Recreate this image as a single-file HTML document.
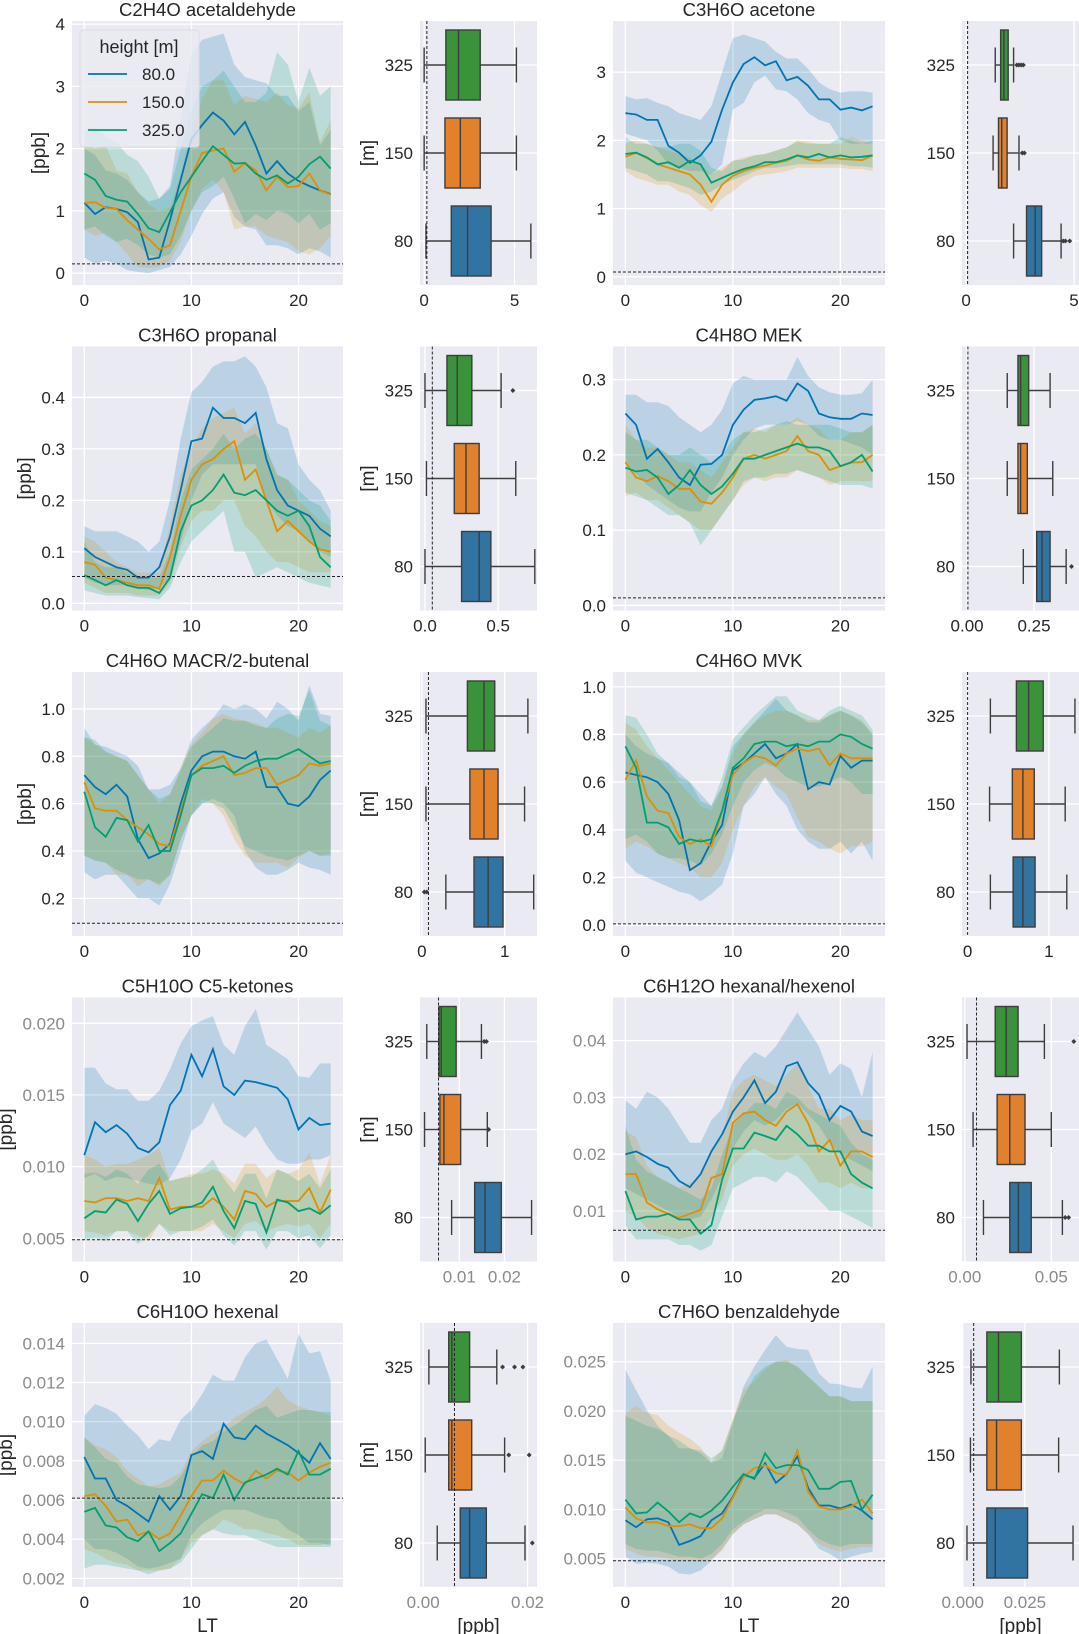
<!DOCTYPE html>
<html><head><meta charset="utf-8"><title>Diurnal VOC profiles</title>
<style>
html,body{margin:0;padding:0;background:#fff;}
svg{display:block;font-family:"Liberation Sans",Arial,sans-serif;}
</style></head>
<body>
<svg id="fig" width="1079" height="1634" viewBox="0 0 1079 1634" xmlns="http://www.w3.org/2000/svg"></svg>
<script>
// ---------- shared categories ----------
const hours = [0,1,2,3,4,5,6,7,8,9,10,11,12,13,14,15,16,17,18,19,20,21,22,23];
const heights = ['80.0','150.0','325.0'];
const boxCats = ['80','150','325'];

// ---------- P1 acetaldehyde ----------
const acet_m80 = [1.13,0.95,1.06,1.03,0.98,0.82,0.22,0.25,0.85,1.5,2.15,2.38,2.58,2.45,2.23,2.43,2.05,1.6,1.8,1.6,1.48,1.4,1.33,1.27];
const acet_lo80 = [0.25,0.15,0.2,0.15,0.05,0.02,0.0,0.05,0.1,0.3,0.6,0.95,1.2,1.3,0.9,0.75,0.7,0.45,0.45,0.4,0.3,0.4,0.35,0.25];
const acet_hi80 = [2.0,1.9,1.65,1.6,1.5,1.3,1.15,1.2,1.4,2.5,3.5,3.75,3.8,3.85,3.35,3.15,3.1,3.05,2.85,2.85,2.6,2.75,2.05,2.3];
const acet_m150 = [1.13,1.14,1.05,1.03,0.85,0.7,0.55,0.38,0.45,1.0,1.55,1.93,1.97,2.0,1.63,1.77,1.65,1.33,1.55,1.38,1.4,1.6,1.33,1.26];
const acet_lo150 = [0.7,0.6,0.65,0.5,0.3,0.1,0.08,0.1,0.2,0.5,1.0,1.35,1.5,1.3,0.7,0.75,0.75,0.6,0.55,0.5,0.35,0.3,0.4,0.6];
const acet_hi150 = [2.05,2.0,2.05,1.65,1.6,1.3,1.1,1.0,1.05,1.6,2.3,2.8,3.1,3.1,2.7,2.85,2.8,2.75,2.9,2.7,2.65,2.9,2.1,2.45];
const acet_m325 = [1.6,1.5,1.24,1.18,1.15,0.95,0.72,0.66,0.98,1.3,1.55,1.8,2.04,1.9,1.76,1.77,1.6,1.5,1.57,1.44,1.55,1.75,1.87,1.68];
const acet_lo325 = [0.7,0.75,0.6,0.5,0.55,0.45,0.3,0.25,0.3,0.6,1.0,1.3,1.4,1.55,1.2,0.8,0.95,0.85,1.0,0.95,0.8,0.95,0.7,0.8];
const acet_hi325 = [2.3,2.35,2.2,2.1,1.9,1.8,1.55,1.2,1.35,2.0,2.6,3.0,3.1,3.25,3.0,2.75,2.75,2.9,3.55,3.35,2.75,3.3,2.85,3.0];
const acet_yticks = [0,1,2,3,4];
const acet_ylabels = ['0','1','2','3','4'];

// ---------- P2 acetone ----------
const acetone_m80 = [2.4,2.38,2.3,2.3,1.92,1.82,1.67,1.78,1.98,2.45,2.85,3.12,3.22,3.1,3.16,2.88,2.93,2.8,2.6,2.6,2.45,2.48,2.44,2.5];
const acetone_lo80 = [2.1,2.05,2.0,1.85,1.65,1.6,1.55,1.55,1.5,1.65,2.45,2.55,2.85,2.95,2.75,2.72,2.6,2.4,2.3,2.25,2.0,1.95,1.95,1.95];
const acetone_hi80 = [2.65,2.6,2.62,2.55,2.5,2.4,2.35,2.3,2.5,3.0,3.5,3.55,3.5,3.45,3.3,3.2,3.2,3.05,2.85,2.75,2.7,2.72,2.72,2.7];
const acetone_m150 = [1.76,1.82,1.74,1.65,1.6,1.55,1.5,1.35,1.1,1.35,1.48,1.55,1.6,1.63,1.67,1.7,1.78,1.72,1.7,1.75,1.73,1.72,1.71,1.78];
const acetone_lo150 = [1.55,1.45,1.4,1.35,1.35,1.25,1.2,1.05,0.95,1.15,1.25,1.38,1.48,1.5,1.52,1.55,1.6,1.6,1.6,1.6,1.6,1.58,1.58,1.55];
const acetone_hi150 = [1.95,2.0,1.95,1.9,1.85,1.8,1.75,1.65,1.5,1.6,1.7,1.75,1.78,1.8,1.85,1.9,2.0,1.98,1.95,1.95,1.95,2.05,2.0,1.95];
const acetone_m325 = [1.8,1.82,1.75,1.65,1.68,1.6,1.7,1.65,1.38,1.45,1.52,1.58,1.62,1.68,1.68,1.72,1.78,1.75,1.8,1.75,1.78,1.75,1.76,1.78];
const acetone_lo325 = [1.6,1.55,1.5,1.4,1.4,1.35,1.3,1.2,1.25,1.35,1.42,1.48,1.55,1.6,1.6,1.62,1.65,1.65,1.65,1.65,1.65,1.62,1.62,1.6];
const acetone_hi325 = [2.05,1.95,1.95,1.9,1.9,1.95,1.95,1.85,1.6,1.55,1.7,1.72,1.78,1.8,1.85,1.9,1.98,1.95,1.95,1.95,2.05,2.0,1.95,2.0];
const acetone_yticks = [0,1,2,3];
const acetone_ylabels = ['0','1','2','3'];

// ---------- P3 propanal ----------
const prop_m80 = [0.107,0.09,0.08,0.07,0.065,0.05,0.05,0.07,0.13,0.22,0.315,0.32,0.38,0.36,0.36,0.35,0.37,0.28,0.22,0.19,0.18,0.17,0.145,0.13];
const prop_lo80 = [0.05,0.04,0.035,0.035,0.035,0.03,0.025,0.03,0.05,0.12,0.2,0.25,0.27,0.27,0.27,0.27,0.27,0.2,0.17,0.15,0.14,0.12,0.1,0.09];
const prop_hi80 = [0.15,0.14,0.14,0.14,0.13,0.12,0.1,0.12,0.2,0.32,0.41,0.43,0.46,0.47,0.47,0.48,0.46,0.42,0.35,0.34,0.27,0.24,0.22,0.18];
const prop_m150 = [0.08,0.075,0.05,0.045,0.04,0.035,0.035,0.028,0.09,0.17,0.24,0.27,0.28,0.3,0.315,0.24,0.26,0.2,0.14,0.16,0.14,0.12,0.105,0.1];
const prop_lo150 = [0.04,0.03,0.02,0.02,0.02,0.015,0.015,0.015,0.04,0.11,0.16,0.18,0.18,0.2,0.2,0.15,0.13,0.1,0.08,0.08,0.07,0.06,0.06,0.06];
const prop_hi150 = [0.13,0.12,0.1,0.08,0.07,0.06,0.06,0.06,0.15,0.25,0.3,0.34,0.36,0.37,0.38,0.33,0.35,0.3,0.25,0.24,0.2,0.18,0.16,0.15];
const prop_m325 = [0.055,0.045,0.035,0.045,0.035,0.03,0.03,0.02,0.05,0.14,0.19,0.2,0.22,0.25,0.215,0.21,0.22,0.2,0.18,0.17,0.18,0.15,0.09,0.07];
const prop_lo325 = [0.025,0.02,0.015,0.015,0.015,0.012,0.01,0.008,0.03,0.08,0.12,0.14,0.16,0.18,0.1,0.1,0.05,0.06,0.07,0.06,0.05,0.04,0.035,0.03];
const prop_hi325 = [0.12,0.08,0.07,0.07,0.06,0.05,0.05,0.05,0.1,0.2,0.26,0.28,0.3,0.33,0.3,0.32,0.33,0.3,0.25,0.24,0.22,0.2,0.19,0.16];
const prop_yticks = [0,0.1,0.2,0.3,0.4];
const prop_ylabels = ['0.0','0.1','0.2','0.3','0.4'];

// ---------- P4 MEK ----------
const mek_m80 = [0.255,0.24,0.195,0.208,0.19,0.17,0.16,0.187,0.188,0.2,0.24,0.26,0.273,0.275,0.278,0.272,0.295,0.285,0.255,0.25,0.248,0.248,0.255,0.253];
const mek_lo80 = [0.19,0.175,0.16,0.15,0.14,0.13,0.125,0.125,0.15,0.17,0.2,0.22,0.235,0.24,0.24,0.24,0.245,0.24,0.225,0.22,0.22,0.215,0.21,0.2];
const mek_hi80 = [0.28,0.28,0.27,0.27,0.265,0.25,0.24,0.23,0.24,0.26,0.295,0.305,0.3,0.3,0.3,0.3,0.33,0.305,0.29,0.283,0.28,0.28,0.282,0.3];
const mek_m150 = [0.19,0.17,0.165,0.172,0.165,0.155,0.155,0.138,0.135,0.15,0.17,0.195,0.2,0.195,0.2,0.205,0.225,0.205,0.2,0.18,0.185,0.19,0.19,0.2];
const mek_lo150 = [0.145,0.15,0.14,0.14,0.13,0.12,0.11,0.1,0.1,0.12,0.14,0.16,0.17,0.165,0.17,0.17,0.18,0.175,0.17,0.16,0.165,0.165,0.165,0.165];
const mek_hi150 = [0.24,0.22,0.21,0.21,0.2,0.19,0.19,0.18,0.17,0.19,0.21,0.23,0.235,0.23,0.24,0.24,0.25,0.24,0.235,0.22,0.22,0.23,0.23,0.24];
const mek_m325 = [0.183,0.178,0.18,0.17,0.148,0.16,0.18,0.16,0.148,0.158,0.175,0.195,0.195,0.2,0.205,0.21,0.215,0.21,0.21,0.205,0.185,0.19,0.2,0.178];
const mek_lo325 = [0.15,0.145,0.14,0.13,0.12,0.12,0.11,0.08,0.1,0.12,0.14,0.165,0.17,0.17,0.175,0.175,0.18,0.175,0.17,0.165,0.16,0.16,0.16,0.155];
const mek_hi325 = [0.23,0.22,0.22,0.21,0.2,0.2,0.21,0.2,0.19,0.2,0.22,0.23,0.23,0.235,0.24,0.245,0.24,0.24,0.24,0.24,0.235,0.23,0.23,0.24];
const mek_yticks = [0,0.1,0.2,0.3];
const mek_ylabels = ['0.0','0.1','0.2','0.3'];

// ---------- P5 MACR/2-butenal ----------
const macr_m80 = [0.72,0.67,0.64,0.68,0.63,0.45,0.37,0.39,0.43,0.6,0.74,0.8,0.82,0.82,0.8,0.79,0.82,0.67,0.67,0.6,0.59,0.63,0.7,0.74];
const macr_lo80 = [0.31,0.28,0.3,0.3,0.25,0.2,0.2,0.17,0.26,0.4,0.55,0.6,0.62,0.6,0.55,0.4,0.33,0.3,0.3,0.32,0.35,0.33,0.32,0.3];
const macr_hi80 = [0.92,0.85,0.84,0.82,0.8,0.76,0.66,0.66,0.68,0.75,0.87,0.92,0.96,1.02,1.0,1.02,1.0,0.96,1.03,1.0,0.95,1.1,0.98,0.97];
const macr_m150 = [0.69,0.58,0.57,0.57,0.53,0.5,0.47,0.43,0.42,0.57,0.72,0.76,0.78,0.8,0.72,0.73,0.75,0.75,0.68,0.7,0.72,0.77,0.76,0.77];
const macr_lo150 = [0.38,0.36,0.35,0.3,0.3,0.25,0.28,0.25,0.3,0.45,0.55,0.62,0.6,0.55,0.45,0.38,0.35,0.35,0.35,0.33,0.37,0.4,0.38,0.39];
const macr_hi150 = [0.88,0.85,0.82,0.8,0.78,0.72,0.66,0.6,0.64,0.75,0.85,0.9,0.96,0.98,0.96,0.95,0.94,0.92,0.92,0.9,0.88,0.92,0.9,0.93];
const macr_m325 = [0.65,0.5,0.46,0.54,0.53,0.44,0.51,0.4,0.4,0.55,0.72,0.75,0.75,0.76,0.73,0.76,0.78,0.79,0.79,0.81,0.83,0.8,0.77,0.78];
const macr_lo325 = [0.38,0.36,0.35,0.32,0.3,0.28,0.28,0.26,0.3,0.45,0.55,0.6,0.6,0.58,0.5,0.42,0.4,0.38,0.37,0.36,0.38,0.4,0.38,0.38];
const macr_hi325 = [0.88,0.87,0.82,0.8,0.78,0.72,0.66,0.62,0.64,0.74,0.84,0.88,0.92,0.96,0.95,0.95,0.93,0.92,0.96,0.98,0.97,1.08,0.95,0.93];
const macr_yticks = [0.2,0.4,0.6,0.8,1.0];
const macr_ylabels = ['0.2','0.4','0.6','0.8','1.0'];

// ---------- P6 MVK ----------
const mvk_m80 = [0.64,0.63,0.62,0.6,0.55,0.44,0.23,0.26,0.35,0.42,0.65,0.68,0.72,0.76,0.7,0.72,0.76,0.57,0.6,0.59,0.71,0.66,0.69,0.69];
const mvk_lo80 = [0.27,0.22,0.2,0.18,0.16,0.14,0.13,0.1,0.13,0.17,0.3,0.5,0.55,0.62,0.55,0.5,0.4,0.35,0.32,0.32,0.35,0.3,0.35,0.27];
const mvk_hi80 = [0.8,0.75,0.72,0.7,0.68,0.64,0.6,0.55,0.5,0.58,0.75,0.8,0.85,0.9,0.95,0.9,0.88,0.85,0.85,0.88,0.9,0.88,0.85,0.8];
const mvk_m150 = [0.61,0.69,0.54,0.48,0.47,0.37,0.34,0.36,0.33,0.48,0.63,0.68,0.71,0.7,0.67,0.72,0.74,0.73,0.74,0.67,0.72,0.7,0.7,0.7];
const mvk_lo150 = [0.32,0.35,0.33,0.3,0.28,0.26,0.24,0.2,0.2,0.26,0.4,0.5,0.58,0.62,0.58,0.55,0.45,0.37,0.35,0.32,0.3,0.33,0.33,0.35];
const mvk_hi150 = [0.85,0.82,0.75,0.7,0.65,0.6,0.55,0.5,0.48,0.58,0.72,0.8,0.85,0.88,0.9,0.9,0.88,0.86,0.86,0.88,0.9,0.88,0.86,0.8];
const mvk_m325 = [0.75,0.66,0.43,0.43,0.41,0.34,0.36,0.35,0.36,0.48,0.66,0.7,0.76,0.77,0.77,0.75,0.76,0.75,0.77,0.77,0.8,0.79,0.76,0.74];
const mvk_lo325 = [0.36,0.38,0.35,0.3,0.28,0.28,0.27,0.25,0.3,0.38,0.5,0.6,0.65,0.68,0.66,0.62,0.6,0.58,0.58,0.6,0.62,0.6,0.55,0.55];
const mvk_hi325 = [0.88,0.87,0.8,0.72,0.68,0.62,0.6,0.52,0.5,0.62,0.78,0.83,0.88,0.92,0.96,0.96,0.9,0.88,0.86,0.9,0.92,0.9,0.88,0.82];
const mvk_yticks = [0,0.2,0.4,0.6,0.8,1.0];
const mvk_ylabels = ['0.0','0.2','0.4','0.6','0.8','1.0'];

// ---------- P7 C5-ketones ----------
const c5_m80 = [0.0108,0.0131,0.0124,0.0129,0.0123,0.0113,0.011,0.0117,0.0143,0.0153,0.0178,0.0163,0.0182,0.0156,0.015,0.016,0.0159,0.0157,0.0155,0.0147,0.0126,0.0134,0.0129,0.013];
const c5_lo80 = [0.0092,0.0095,0.009,0.0093,0.0092,0.009,0.0088,0.0087,0.0092,0.0105,0.0125,0.013,0.0145,0.013,0.0125,0.012,0.0128,0.0115,0.0105,0.0102,0.0102,0.0105,0.0105,0.0108];
const c5_hi80 = [0.0169,0.0169,0.0158,0.0154,0.0154,0.0146,0.0146,0.0153,0.0168,0.0186,0.0198,0.0202,0.0205,0.0185,0.0178,0.0198,0.021,0.0185,0.018,0.0175,0.0163,0.0162,0.0172,0.0172];
const c5_m150 = [0.0076,0.0075,0.0078,0.0078,0.0076,0.0078,0.0076,0.0092,0.007,0.0072,0.0072,0.0072,0.0078,0.0072,0.0063,0.0083,0.0081,0.0072,0.0076,0.0076,0.0076,0.0085,0.0068,0.0084];
const c5_lo150 = [0.0055,0.0054,0.0052,0.0055,0.0055,0.0052,0.0048,0.006,0.0055,0.0055,0.0055,0.0055,0.006,0.0055,0.005,0.006,0.0062,0.0055,0.0058,0.006,0.0058,0.006,0.005,0.006];
const c5_hi150 = [0.0108,0.0105,0.01,0.0102,0.0102,0.0105,0.0108,0.0113,0.009,0.0092,0.0095,0.0095,0.0098,0.0095,0.0088,0.0102,0.0102,0.0092,0.0098,0.0095,0.0098,0.011,0.0088,0.0108];
const c5_m325 = [0.0064,0.0069,0.0068,0.0077,0.0074,0.0062,0.0074,0.0083,0.0067,0.0071,0.0072,0.0075,0.0086,0.0069,0.0057,0.0076,0.0074,0.0054,0.0077,0.0075,0.0069,0.0071,0.0067,0.0073];
const c5_lo325 = [0.0049,0.005,0.0048,0.0055,0.0055,0.0046,0.0052,0.006,0.0052,0.0055,0.0055,0.0058,0.0063,0.0052,0.0045,0.0055,0.0055,0.0042,0.0055,0.0055,0.005,0.0052,0.0043,0.0052];
const c5_hi325 = [0.0095,0.0096,0.0093,0.0098,0.0095,0.0088,0.0098,0.0102,0.009,0.0092,0.0093,0.0098,0.0105,0.0092,0.0082,0.0095,0.0095,0.0078,0.0098,0.0095,0.009,0.0095,0.0085,0.0098];
const c5_yticks = [0.005,0.010,0.015,0.020];
const c5_ylabels = ['0.005','0.010','0.015','0.020'];

// ---------- P8 hexanal/hexenol ----------
const hexa_m80 = [0.02,0.0205,0.0195,0.0183,0.0176,0.0153,0.0142,0.0165,0.0205,0.0235,0.0275,0.03,0.033,0.029,0.031,0.0355,0.0362,0.0325,0.0305,0.026,0.0285,0.0275,0.024,0.0232];
const hexa_lo80 = [0.014,0.013,0.012,0.011,0.01,0.009,0.0085,0.009,0.012,0.016,0.021,0.024,0.026,0.025,0.026,0.028,0.029,0.027,0.025,0.022,0.02,0.019,0.018,0.017];
const hexa_hi80 = [0.0295,0.028,0.031,0.03,0.028,0.025,0.022,0.022,0.026,0.028,0.033,0.036,0.038,0.037,0.039,0.042,0.045,0.042,0.039,0.034,0.036,0.035,0.03,0.038];
const hexa_m150 = [0.0165,0.0165,0.0115,0.0103,0.0095,0.0088,0.0095,0.0102,0.0158,0.0165,0.0255,0.0272,0.0275,0.026,0.025,0.0275,0.0288,0.0255,0.0205,0.0225,0.018,0.0205,0.0205,0.0195];
const hexa_lo150 = [0.01,0.009,0.007,0.006,0.0055,0.005,0.0055,0.006,0.009,0.012,0.018,0.02,0.021,0.02,0.019,0.019,0.02,0.018,0.015,0.015,0.014,0.015,0.014,0.014];
const hexa_hi150 = [0.024,0.023,0.018,0.016,0.015,0.014,0.015,0.016,0.021,0.023,0.031,0.033,0.034,0.033,0.032,0.034,0.036,0.032,0.028,0.028,0.026,0.027,0.026,0.026];
const hexa_m325 = [0.0135,0.0085,0.009,0.009,0.0095,0.0085,0.0085,0.006,0.0075,0.0155,0.021,0.021,0.0238,0.0232,0.0225,0.025,0.0235,0.0215,0.0215,0.0205,0.0205,0.0165,0.015,0.014];
const hexa_lo325 = [0.0075,0.005,0.005,0.005,0.005,0.004,0.004,0.003,0.004,0.009,0.014,0.015,0.016,0.016,0.015,0.017,0.016,0.014,0.012,0.01,0.01,0.009,0.008,0.007];
const hexa_hi325 = [0.025,0.019,0.017,0.016,0.015,0.014,0.013,0.012,0.014,0.02,0.025,0.027,0.029,0.029,0.028,0.031,0.03,0.028,0.027,0.026,0.025,0.022,0.02,0.019];
const hexa_yticks = [0.01,0.02,0.03,0.04];
const hexa_ylabels = ['0.01','0.02','0.03','0.04'];

// ---------- P9 hexenal ----------
const hexe_m80 = [0.0082,0.0071,0.0071,0.006,0.0057,0.0053,0.0049,0.0062,0.0055,0.0062,0.0083,0.0085,0.0081,0.0099,0.0092,0.0091,0.0098,0.0094,0.0091,0.0088,0.0084,0.0079,0.0089,0.0081];
const hexe_lo80 = [0.004,0.0035,0.0035,0.0033,0.003,0.0026,0.0025,0.0026,0.0028,0.003,0.0042,0.0048,0.0052,0.0055,0.0055,0.0055,0.0053,0.0051,0.005,0.0045,0.0042,0.0038,0.0038,0.0037];
const hexe_hi80 = [0.0103,0.0109,0.0107,0.0104,0.0098,0.0093,0.0086,0.0091,0.009,0.0101,0.0106,0.0114,0.0124,0.0121,0.0121,0.0133,0.014,0.0142,0.0132,0.0122,0.0145,0.0135,0.0136,0.0121];
const hexe_m150 = [0.0062,0.0063,0.0057,0.0049,0.005,0.0042,0.0044,0.004,0.0043,0.0052,0.0062,0.007,0.007,0.0075,0.0071,0.0068,0.0075,0.0071,0.0075,0.0074,0.007,0.0074,0.0077,0.0079];
const hexe_lo150 = [0.0035,0.0033,0.003,0.0028,0.0027,0.0024,0.0024,0.0024,0.0025,0.003,0.0038,0.0042,0.0045,0.005,0.0048,0.0045,0.0045,0.0043,0.0042,0.004,0.0037,0.0037,0.0037,0.0038];
const hexe_hi150 = [0.0092,0.0088,0.0086,0.0082,0.0075,0.0071,0.0067,0.0068,0.0071,0.0074,0.0085,0.009,0.0094,0.0097,0.0102,0.0105,0.0108,0.0112,0.0118,0.0111,0.0108,0.0106,0.0105,0.0103];
const hexe_m325 = [0.0054,0.0056,0.0047,0.0046,0.0041,0.0039,0.0044,0.0034,0.0038,0.0043,0.0053,0.0063,0.0061,0.0073,0.006,0.0069,0.0071,0.0073,0.0076,0.0073,0.0085,0.0073,0.0073,0.0076];
const hexe_lo325 = [0.0025,0.0027,0.0027,0.0026,0.0025,0.0024,0.0022,0.0024,0.0025,0.0028,0.0035,0.0042,0.0045,0.0043,0.0042,0.0042,0.004,0.0038,0.0036,0.0036,0.0036,0.0036,0.0036,0.0036];
const hexe_hi325 = [0.0092,0.0087,0.0081,0.0079,0.0072,0.0068,0.0067,0.0066,0.0067,0.0072,0.0082,0.0088,0.009,0.0095,0.0098,0.0102,0.0106,0.0108,0.0102,0.0104,0.0106,0.0106,0.0105,0.0105];
const hexe_yticks = [0.002,0.004,0.006,0.008,0.010,0.012,0.014];
const hexe_ylabels = ['0.002','0.004','0.006','0.008','0.010','0.012','0.014'];

// ---------- P10 benzaldehyde ----------
const benz_m80 = [0.0089,0.0082,0.009,0.0091,0.0087,0.0064,0.0068,0.0073,0.0089,0.0096,0.0113,0.0135,0.0132,0.0147,0.0127,0.0136,0.0154,0.0122,0.0104,0.0104,0.0101,0.0105,0.0099,0.009];
const benz_lo80 = [0.0052,0.0045,0.0046,0.0045,0.0042,0.0035,0.0034,0.0038,0.0048,0.006,0.0075,0.0085,0.009,0.0095,0.0095,0.009,0.0085,0.0075,0.006,0.0055,0.0048,0.0052,0.0055,0.0057];
const benz_hi80 = [0.0242,0.0221,0.0201,0.0185,0.0175,0.0162,0.0162,0.0157,0.0147,0.0152,0.0188,0.0225,0.0245,0.0262,0.0277,0.0265,0.0263,0.0262,0.0238,0.0228,0.0227,0.0224,0.0223,0.0245];
const benz_m150 = [0.0102,0.0091,0.0087,0.0087,0.0083,0.0083,0.0085,0.0081,0.0081,0.0091,0.0112,0.0133,0.0142,0.0145,0.0137,0.0135,0.016,0.0118,0.0103,0.01,0.01,0.0103,0.011,0.0096];
const benz_lo150 = [0.006,0.0055,0.0052,0.0052,0.005,0.0048,0.0048,0.0047,0.005,0.0058,0.0075,0.0085,0.009,0.0095,0.0095,0.009,0.0085,0.0075,0.0065,0.006,0.0057,0.006,0.0062,0.0062];
const benz_hi150 = [0.0198,0.0205,0.0198,0.0196,0.0185,0.0178,0.0172,0.0163,0.0148,0.016,0.0193,0.0222,0.023,0.0242,0.025,0.0252,0.0245,0.0235,0.0224,0.0215,0.0215,0.021,0.021,0.021];
const benz_m325 = [0.011,0.0096,0.0097,0.0107,0.0098,0.0087,0.0096,0.0092,0.0099,0.0109,0.0123,0.0136,0.0131,0.0157,0.0142,0.0145,0.0145,0.014,0.0121,0.0121,0.0128,0.0129,0.01,0.0115];
const benz_lo325 = [0.0065,0.006,0.0058,0.0058,0.0055,0.0052,0.0052,0.005,0.0055,0.0065,0.008,0.0088,0.0095,0.01,0.01,0.0097,0.0092,0.008,0.007,0.0065,0.0062,0.0065,0.0065,0.0065];
const benz_hi325 = [0.0195,0.019,0.0185,0.0182,0.0175,0.017,0.0162,0.016,0.0152,0.016,0.019,0.0215,0.0235,0.0245,0.025,0.025,0.0245,0.0235,0.0225,0.0215,0.0215,0.021,0.021,0.021];
const benz_yticks = [0.005,0.010,0.015,0.020,0.025];
const benz_ylabels = ['0.005','0.010','0.015','0.020','0.025'];

// ---------- box-plot statistics (order: 80, 150, 325) ----------
const b1_q1=[1.5,1.15,1.2], b1_med=[2.4,2.0,1.9], b1_q3=[3.7,3.1,3.1], b1_wlo=[0.1,0,0], b1_whi=[5.9,5.1,5.1];
const b1_out=[[],[],[]]; const b1_ticks=[0,5]; const b1_labels=['0','5'];
const b2_q1=[2.8,1.5,1.6], b2_med=[3.2,1.65,1.75], b2_q3=[3.5,1.9,1.95], b2_wlo=[2.2,1.25,1.35], b2_whi=[4.4,2.45,2.2];
const b2_out=[[4.5,4.6,4.8],[2.6,2.7],[2.35,2.45,2.55,2.65]]; const b2_ticks=[0,5]; const b2_labels=['0','5'];
const b3_q1=[0.25,0.2,0.15], b3_med=[0.37,0.28,0.22], b3_q3=[0.45,0.37,0.32], b3_wlo=[0,0.01,0], b3_whi=[0.75,0.62,0.52];
const b3_out=[[],[],[0.6]]; const b3_ticks=[0,0.5]; const b3_labels=['0.0','0.5'];
const b4_q1=[0.26,0.19,0.19], b4_med=[0.28,0.2,0.2], b4_q3=[0.31,0.225,0.23], b4_wlo=[0.21,0.15,0.15], b4_whi=[0.37,0.32,0.31];
const b4_out=[[0.39],[],[]]; const b4_ticks=[0,0.25]; const b4_labels=['0.00','0.25'];
const b5_q1=[0.63,0.58,0.55], b5_med=[0.8,0.75,0.75], b5_q3=[0.98,0.92,0.88], b5_wlo=[0.29,0.05,0.05], b5_whi=[1.35,1.24,1.28];
const b5_out=[[0.03,0.06],[],[]]; const b5_ticks=[0,1]; const b5_labels=['0','1'];
const b6_q1=[0.56,0.55,0.6], b6_med=[0.68,0.68,0.75], b6_q3=[0.83,0.82,0.93], b6_wlo=[0.28,0.27,0.28], b6_whi=[1.22,1.2,1.32];
const b6_out=[[],[],[]]; const b6_ticks=[0,1]; const b6_labels=['0','1'];
const b7_q1=[0.0134,0.0057,0.0055], b7_med=[0.0157,0.0066,0.006], b7_q3=[0.0193,0.0103,0.0093], b7_wlo=[0.0083,0.0023,0.0028], b7_whi=[0.026,0.0162,0.0149];
const b7_out=[[],[0.0165],[0.0155,0.016]]; const b7_ticks=[0.01,0.02]; const b7_labels=['0.01','0.02'];
const b8_q1=[0.026,0.0187,0.0176], b8_med=[0.031,0.026,0.0239], b8_q3=[0.0384,0.0348,0.0308], b8_wlo=[0.0108,0.0048,0.0013], b8_whi=[0.0564,0.05,0.046];
const b8_out=[[0.058,0.06],[],[0.063]]; const b8_ticks=[0,0.05]; const b8_labels=['0.00','0.05'];
const b9_q1=[0.0071,0.0049,0.0049], b9_med=[0.0089,0.0055,0.0055], b9_q3=[0.0121,0.0093,0.0089], b9_wlo=[0.0027,0.0004,0.0011], b9_whi=[0.0195,0.0156,0.0141];
const b9_out=[[0.0209],[0.0164,0.0203],[0.0152,0.0175,0.0191]]; const b9_ticks=[0,0.02]; const b9_labels=['0.00','0.02'];
const b10_q1=[0.0097,0.0097,0.0097], b10_med=[0.0131,0.0136,0.0144], b10_q3=[0.0261,0.0236,0.0236], b10_wlo=[0.0017,0.0031,0.0033], b10_whi=[0.0444,0.0386,0.0389];
const b10_out=[[],[],[]]; const b10_ticks=[0,0.025]; const b10_labels=['0.000','0.025'];

const xTicks = [0,10,20];
const xTickLabels = ['0','10','20'];

// ---------- rendering ----------
const NS = 'http://www.w3.org/2000/svg';
const svg = document.getElementById('fig');
const LINE_COLORS = ['#0173b2','#de8f05','#029e73'];
const BOX_COLORS = ['#3274a1','#e1812c','#3a923a'];
const COLS = [[72,343],[420,537],[613,885],[962,1079]];
const PH = 264;
function rowTop(r){ return 21 + r*325.5; }
function mk(tag, attrs, parent){
  const e = document.createElementNS(NS, tag);
  for (const k in attrs) e.setAttribute(k, attrs[k]);
  (parent||svg).appendChild(e);
  return e;
}
function txt(s, attrs, parent){ const e = mk('text', attrs, parent); e.textContent = s; return e; }

const linePanels = [
 {id:'acetaldehyde', title:'C2H4O acetaldehyde', col:0,row:0, ymin:-0.19,ymax:4.05, hline:0.15, yt:acet_yticks, yl:acet_ylabels, ylx:45, s:[[acet_m80,acet_lo80,acet_hi80],[acet_m150,acet_lo150,acet_hi150],[acet_m325,acet_lo325,acet_hi325]]},
 {id:'acetone', title:'C3H6O acetone', col:2,row:0, ymin:-0.12,ymax:3.75, hline:0.07, yt:acetone_yticks, yl:acetone_ylabels, s:[[acetone_m80,acetone_lo80,acetone_hi80],[acetone_m150,acetone_lo150,acetone_hi150],[acetone_m325,acetone_lo325,acetone_hi325]]},
 {id:'propanal', title:'C3H6O propanal', col:0,row:1, ymin:-0.014,ymax:0.499, hline:0.052, yt:prop_yticks, yl:prop_ylabels, ylx:31, s:[[prop_m80,prop_lo80,prop_hi80],[prop_m150,prop_lo150,prop_hi150],[prop_m325,prop_lo325,prop_hi325]]},
 {id:'mek', title:'C4H8O MEK', col:2,row:1, ymin:-0.0067,ymax:0.344, hline:0.01, yt:mek_yticks, yl:mek_ylabels, s:[[mek_m80,mek_lo80,mek_hi80],[mek_m150,mek_lo150,mek_hi150],[mek_m325,mek_lo325,mek_hi325]]},
 {id:'macr', title:'C4H6O MACR/2-butenal', col:0,row:2, ymin:0.041,ymax:1.156, hline:0.095, yt:macr_yticks, yl:macr_ylabels, ylx:31, s:[[macr_m80,macr_lo80,macr_hi80],[macr_m150,macr_lo150,macr_hi150],[macr_m325,macr_lo325,macr_hi325]]},
 {id:'mvk', title:'C4H6O MVK', col:2,row:2, ymin:-0.046,ymax:1.062, hline:0.005, yt:mvk_yticks, yl:mvk_ylabels, s:[[mvk_m80,mvk_lo80,mvk_hi80],[mvk_m150,mvk_lo150,mvk_hi150],[mvk_m325,mvk_lo325,mvk_hi325]]},
 {id:'c5-ketones', title:'C5H10O C5-ketones', col:0,row:3, ymin:0.00338,ymax:0.0218, hline:0.0049, yt:c5_yticks, yl:c5_ylabels, ylx:12, gray:true, s:[[c5_m80,c5_lo80,c5_hi80],[c5_m150,c5_lo150,c5_hi150],[c5_m325,c5_lo325,c5_hi325]]},
 {id:'hexanal', title:'C6H12O hexanal/hexenol', col:2,row:3, ymin:0.0011,ymax:0.0476, hline:0.0066, yt:hexa_yticks, yl:hexa_ylabels, gray:true, s:[[hexa_m80,hexa_lo80,hexa_hi80],[hexa_m150,hexa_lo150,hexa_hi150],[hexa_m325,hexa_lo325,hexa_hi325]]},
 {id:'hexenal', title:'C6H10O hexenal', col:0,row:4, ymin:0.00156,ymax:0.01504, hline:0.0061, yt:hexe_yticks, yl:hexe_ylabels, ylx:12, gray:true, s:[[hexe_m80,hexe_lo80,hexe_hi80],[hexe_m150,hexe_lo150,hexe_hi150],[hexe_m325,hexe_lo325,hexe_hi325]]},
 {id:'benzaldehyde', title:'C7H6O benzaldehyde', col:2,row:4, ymin:0.00213,ymax:0.02893, hline:0.0048, yt:benz_yticks, yl:benz_ylabels, gray:true, s:[[benz_m80,benz_lo80,benz_hi80],[benz_m150,benz_lo150,benz_hi150],[benz_m325,benz_lo325,benz_hi325]]}
];
const boxPanels = [
 {id:'acetaldehyde',col:1,row:0,xmin:-0.23,xmax:6.24,vline:0.15,q1:b1_q1,med:b1_med,q3:b1_q3,wlo:b1_wlo,whi:b1_whi,out:b1_out,t:b1_ticks,l:b1_labels},
 {id:'acetone',col:3,row:0,xmin:-0.19,xmax:5.23,vline:0.07,q1:b2_q1,med:b2_med,q3:b2_q3,wlo:b2_wlo,whi:b2_whi,out:b2_out,t:b2_ticks,l:b2_labels},
 {id:'propanal',col:1,row:1,xmin:-0.034,xmax:0.765,vline:0.05,q1:b3_q1,med:b3_med,q3:b3_q3,wlo:b3_wlo,whi:b3_whi,out:b3_out,t:b3_ticks,l:b3_labels},
 {id:'mek',col:3,row:1,xmin:-0.019,xmax:0.418,vline:0.003,q1:b4_q1,med:b4_med,q3:b4_q3,wlo:b4_wlo,whi:b4_whi,out:b4_out,t:b4_ticks,l:b4_labels},
 {id:'macr',col:1,row:2,xmin:-0.022,xmax:1.39,vline:0.08,q1:b5_q1,med:b5_med,q3:b5_q3,wlo:b5_wlo,whi:b5_whi,out:b5_out,t:b5_ticks,l:b5_labels},
 {id:'mvk',col:3,row:2,xmin:-0.069,xmax:1.37,vline:0.0,q1:b6_q1,med:b6_med,q3:b6_q3,wlo:b6_wlo,whi:b6_whi,out:b6_out,t:b6_ticks,l:b6_labels},
 {id:'c5-ketones',col:1,row:3,xmin:0.0013,xmax:0.0272,vline:0.0054,q1:b7_q1,med:b7_med,q3:b7_q3,wlo:b7_wlo,whi:b7_whi,out:b7_out,t:b7_ticks,l:b7_labels,gray:true},
 {id:'hexanal',col:3,row:3,xmin:-0.0016,xmax:0.066,vline:0.0068,q1:b8_q1,med:b8_med,q3:b8_q3,wlo:b8_wlo,whi:b8_whi,out:b8_out,t:b8_ticks,l:b8_labels,gray:true},
 {id:'hexenal',col:1,row:4,xmin:-0.0006,xmax:0.0218,vline:0.006,q1:b9_q1,med:b9_med,q3:b9_q3,wlo:b9_wlo,whi:b9_whi,out:b9_out,t:b9_ticks,l:b9_labels,gray:true},
 {id:'benzaldehyde',col:3,row:4,xmin:-0.0003,xmax:0.0468,vline:0.0044,q1:b10_q1,med:b10_med,q3:b10_q3,wlo:b10_wlo,whi:b10_whi,out:b10_out,t:b10_ticks,l:b10_labels,gray:true}
];

const FS = 17;
const DARK = '#262626', GRAY = '#8a8a8a';

function drawLinePanel(p, idx){
  const x0 = COLS[p.col][0], x1 = COLS[p.col][1], y0 = rowTop(p.row);
  const XMIN=-1.15, XMAX=24.15;
  const sx = v => x0 + (v-XMIN)/(XMAX-XMIN)*(x1-x0);
  const sy = v => y0 + PH - (v-p.ymin)/(p.ymax-p.ymin)*PH;
  const g = mk('g', {});
  
  
  const bg = mk('rect', {x:x0,y:y0,width:x1-x0,height:PH,fill:'#eaeaf2'}, g);
  
  
  const cp = mk('clipPath', {id:'clipL'+idx}, g);
  mk('rect', {x:x0,y:y0,width:x1-x0,height:PH}, cp);
  // grid
  p.yt.forEach((v,i)=>{
    const gl = mk('line', {x1:x0,x2:x1,y1:sy(v),y2:sy(v),stroke:'#fff','stroke-width':1.3}, g);
    
    
    const t = txt(p.yl[i], {x:x0-7,y:sy(v)+6,'text-anchor':'end','font-size':FS,fill:p.gray?GRAY:DARK}, g);
    
    
  });
  xTicks.forEach((v,i)=>{
    const gl = mk('line', {x1:sx(v),x2:sx(v),y1:y0,y2:y0+PH,stroke:'#fff','stroke-width':1.3}, g);
    
    
    const t = txt(xTickLabels[i], {x:sx(v),y:y0+PH+21,'text-anchor':'middle','font-size':FS,fill:DARK}, g);
    
    
  });
  const cg = mk('g', {'clip-path':'url(#clipL'+idx+')'}, g);
  // bands
  p.s.forEach((ser,k)=>{
    const m=ser[0], lo=ser[1], hi=ser[2];
    let d = '';
    hours.forEach((h,i)=>{ d += (i?'L':'M') + sx(h).toFixed(1) + ',' + sy(hi[i]).toFixed(1); });
    for (let i=hours.length-1;i>=0;i--) d += 'L' + sx(hours[i]).toFixed(1) + ',' + sy(lo[i]).toFixed(1);
    const band = mk('path', {d:d+'Z', fill:LINE_COLORS[k], 'fill-opacity':0.2, stroke:'none'}, cg);
    
    
  });
  p.s.forEach((ser,k)=>{
    const m=ser[0];
    const pts = hours.map((h,i)=> sx(h).toFixed(1)+','+sy(m[i]).toFixed(1)).join(' ');
    const ln = mk('polyline', {points:pts, fill:'none', stroke:LINE_COLORS[k], 'stroke-width':1.8}, cg);
    
    
  });
  const hl = mk('line', {x1:x0,x2:x1,y1:sy(p.hline),y2:sy(p.hline),stroke:'#222','stroke-width':1,'stroke-dasharray':'3,2'}, cg);
  
  
  const tt = txt(p.title, {x:(x0+x1)/2,y:y0-5,'text-anchor':'middle','font-size':18.5,fill:DARK}, g);
  
  
  if (p.ylx !== undefined){
    const yc = y0+PH/2;
    const yl = txt('[ppb]', {x:p.ylx,y:yc,'text-anchor':'middle','font-size':19,fill:DARK,transform:'rotate(-90 '+p.ylx+' '+yc+')'}, g);
    
    
  }
  if (p.row===4){
    const xl = txt('LT', {x:(x0+x1)/2,y:y0+PH+45,'text-anchor':'middle','font-size':19,fill:DARK}, g);
    
    
  }
}

function drawBoxPanel(p, idx){
  const x0 = COLS[p.col][0], x1 = COLS[p.col][1], y0 = rowTop(p.row);
  const sx = v => x0 + (v-p.xmin)/(p.xmax-p.xmin)*(x1-x0);
  const cy = k => y0 + 44 + (2-k)*88;
  const g = mk('g', {});
  
  
  const bg = mk('rect', {x:x0,y:y0,width:x1-x0,height:PH,fill:'#eaeaf2'}, g);
  
  
  p.t.forEach((v,i)=>{
    const gl = mk('line', {x1:sx(v),x2:sx(v),y1:y0,y2:y0+PH,stroke:'#fff','stroke-width':1.3}, g);
    
    
    const t = txt(p.l[i], {x:sx(v),y:y0+PH+21,'text-anchor':'middle','font-size':FS,fill:p.gray?GRAY:DARK}, g);
    
    
  });
  boxCats.forEach((c,k)=>{
    const gl = mk('line', {x1:x0,x2:x1,y1:cy(k),y2:cy(k),stroke:'#fff','stroke-width':1.3}, g);
    
    
    const t = txt(c, {x:x0-7,y:cy(k)+6,'text-anchor':'end','font-size':FS,fill:DARK}, g);
    
    
  });
  const ec = '#3d3d3d';
  boxCats.forEach((c,k)=>{
    const y = cy(k), hh = 35;
    const wl = mk('line', {x1:sx(p.wlo[k]),x2:sx(p.q1[k]),y1:y,y2:y,stroke:ec,'stroke-width':1.4}, g);
    
    
    const wh = mk('line', {x1:sx(p.q3[k]),x2:sx(p.whi[k]),y1:y,y2:y,stroke:ec,'stroke-width':1.4}, g);
    
    
    const c1 = mk('line', {x1:sx(p.wlo[k]),x2:sx(p.wlo[k]),y1:y-hh/2,y2:y+hh/2,stroke:ec,'stroke-width':1.4}, g);
    
    
    const c2 = mk('line', {x1:sx(p.whi[k]),x2:sx(p.whi[k]),y1:y-hh/2,y2:y+hh/2,stroke:ec,'stroke-width':1.4}, g);
    
    
    const bx = mk('rect', {x:sx(p.q1[k]),y:y-hh,width:sx(p.q3[k])-sx(p.q1[k]),height:2*hh,fill:BOX_COLORS[k],stroke:ec,'stroke-width':1.4}, g);
    
    
    const md = mk('line', {x1:sx(p.med[k]),x2:sx(p.med[k]),y1:y-hh,y2:y+hh,stroke:ec,'stroke-width':1.4}, g);
    
    
    p.out[k].forEach(v=>{
      const o = mk('path', {d:'M'+(sx(v)-2.5)+','+y+'l2.5,-2.5l2.5,2.5l-2.5,2.5z',fill:ec}, g);
      
      
    });
  });
  const vl = mk('line', {x1:sx(p.vline),x2:sx(p.vline),y1:y0,y2:y0+PH,stroke:'#222','stroke-width':1,'stroke-dasharray':'3,2'}, g);
  
  
  if (p.col===1){
    const yc = y0 + 132;
    const yl = txt('[m]', {x:374,y:yc,'text-anchor':'middle','font-size':19,fill:DARK,transform:'rotate(-90 374 '+yc+')'}, g);
    
    
  }
  if (p.row===4){
    const xl = txt('[ppb]', {x:(x0+x1)/2,y:y0+PH+45,'text-anchor':'middle','font-size':19,fill:DARK}, g);
    
    
  }
}

linePanels.forEach(drawLinePanel);
boxPanels.forEach(drawBoxPanel);

// legend in first panel
const lg = mk('g', {});


const lbox = mk('rect', {x:80,y:30,width:119,height:117,rx:3,fill:'#eaeaf2','fill-opacity':0.8,stroke:'#dcdce6'}, lg);


const ltitle = txt('height [m]', {x:139,y:53,'text-anchor':'middle','font-size':18,fill:DARK}, lg);


heights.forEach((h,k)=>{
  const yy = 74 + k*28;
  const ll = mk('line', {x1:88,x2:127,y1:yy,y2:yy,stroke:LINE_COLORS[k],'stroke-width':1.8}, lg);
  
  
  const lt = txt(h, {x:142,y:yy+6,'font-size':17,fill:DARK}, lg);
  
  
});
</script>
</body></html>
